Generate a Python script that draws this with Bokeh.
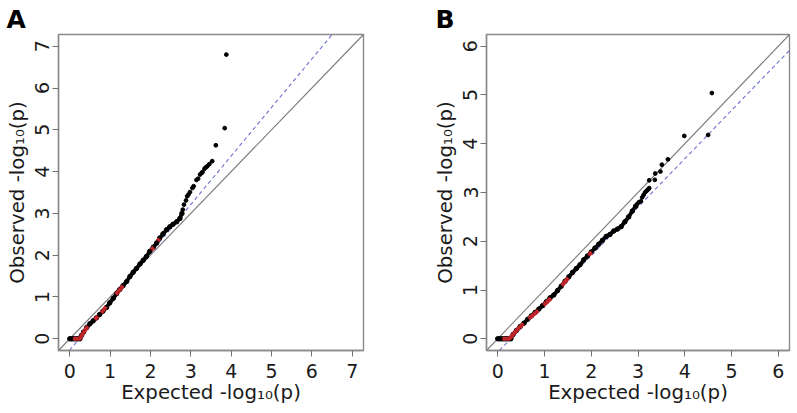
from bokeh.plotting import figure
from bokeh.models import Slope, FixedTicker
from bokeh.layouts import row
from bokeh.embed import file_html
from bokeh.resources import INLINE

# ---------------- Panel A data ----------------
A_ticks = [0, 1, 2, 3, 4, 5, 6, 7]
A_lim = 7
A_fit_slope = 1.161
A_fit_intercept = -0.27
A_body_x = [0.00, 0.04, 0.08, 0.12, 0.16, 0.20, 0.25, 0.29, 0.34, 0.42, 0.50, 0.58, 0.66,
            0.74, 0.82, 0.91, 0.99, 1.08, 1.16, 1.24, 1.32, 1.41, 1.49, 1.57, 1.65, 1.74,
            1.82, 1.90, 1.98, 2.07, 2.15, 2.23, 2.31, 2.40, 2.48, 2.56, 2.65, 2.73, 2.78]
A_body_y = [0.00, 0.00, 0.00, 0.00, 0.00, 0.00, 0.00, 0.08, 0.16, 0.27, 0.36, 0.43, 0.50,
            0.58, 0.66, 0.75, 0.86, 0.97, 1.08, 1.18, 1.27, 1.37, 1.49, 1.59, 1.68, 1.79,
            1.88, 1.97, 2.09, 2.19, 2.29, 2.41, 2.51, 2.61, 2.68, 2.74, 2.80, 2.88, 3.00]
A_tail_x = [2.80, 2.83, 2.88, 2.91, 2.94, 2.98, 3.04, 3.07, 3.14, 3.18, 3.23, 3.27, 3.29,
            3.34, 3.37, 3.41, 3.46, 3.53, 3.62, 3.84, 3.88]
A_tail_y = [3.09, 3.21, 3.31, 3.41, 3.45, 3.51, 3.61, 3.65, 3.80, 3.83, 3.93, 3.97, 3.99,
            4.07, 4.10, 4.13, 4.18, 4.25, 4.63, 5.04, 6.80]
A_red_xs = [[0.08, 0.16, 0.25, 0.30, 0.36, 0.45], [0.62, 0.70], [0.78, 0.90],
            [1.14, 1.32], [2.02, 2.08], [2.18, 2.22]]
A_red_ys = [[0.00, 0.00, 0.00, 0.09, 0.18, 0.30], [0.46, 0.54], [0.62, 0.77],
            [1.06, 1.27], [2.13, 2.19], [2.34, 2.40]]

# ---------------- Panel B data ----------------
B_ticks = [0, 1, 2, 3, 4, 5, 6]
B_lim = 6
B_fit_slope = 0.992
B_fit_intercept = -0.276
B_body_x = [0.00, 0.04, 0.08, 0.12, 0.16, 0.20, 0.24, 0.28, 0.33, 0.40, 0.48, 0.56, 0.64,
            0.72, 0.80, 0.88, 0.96, 1.04, 1.12, 1.20, 1.28, 1.36, 1.44, 1.52, 1.60, 1.68,
            1.76, 1.84, 1.92, 2.00, 2.08, 2.16, 2.24, 2.32, 2.40, 2.48, 2.56, 2.64, 2.72,
            2.80, 2.88, 2.95]
B_body_y = [0.00, 0.00, 0.00, 0.00, 0.00, 0.00, 0.00, 0.00, 0.09, 0.17, 0.25, 0.32, 0.40,
            0.47, 0.54, 0.61, 0.68, 0.76, 0.84, 0.90, 0.99, 1.08, 1.18, 1.27, 1.36, 1.44,
            1.52, 1.62, 1.70, 1.78, 1.86, 1.94, 2.02, 2.10, 2.14, 2.21, 2.25, 2.30, 2.40,
            2.50, 2.62, 2.72]
B_tail_x = [2.98, 3.02, 3.06, 3.09, 3.12, 3.15, 3.18, 3.20, 3.22, 3.24, 3.24, 3.36, 3.37,
            3.48, 3.51, 3.64, 3.99, 4.50, 4.58]
B_tail_y = [2.76, 2.80, 2.82, 2.90, 2.95, 3.00, 3.03, 3.05, 3.07, 3.09, 3.25, 3.26, 3.39,
            3.43, 3.57, 3.68, 4.16, 4.18, 5.04]
B_red_xs = [[0.10, 0.18, 0.25, 0.31, 0.40, 0.55], [0.66, 0.87], [0.98, 1.14],
            [1.37, 1.51], [1.94, 2.01]]
B_red_ys = [[0.00, 0.00, 0.00, 0.07, 0.17, 0.31], [0.41, 0.58], [0.69, 0.83],
            [1.09, 1.25], [1.71, 1.78]]

X_TITLE = "Expected -log\u2081\u2080(p)"
Y_TITLE = "Observed -log\u2081\u2080(p)"

FONT = "DejaVu Sans"
TXT = "#1a1a1a"
GRAY = "#8a8a8a"


def panel(letter, lim, ticks, bx, by, tx, ty, rxs, rys, fslope, fint,
          border_left, border_right, fw, letter_offset):
    lo, hi = -0.04 * lim, 1.04 * lim
    p = figure(x_range=(lo, hi), y_range=(lo, hi), frame_width=fw, frame_height=316,
               min_border_left=border_left, min_border_right=border_right,
               min_border_top=34, min_border_bottom=61,
               output_backend="svg", toolbar_location=None, title=letter)
    p.title.text_font = FONT
    p.title.text_font_size = "25px"
    p.title.text_font_style = "bold"
    p.title.text_color = "black"
    p.title.align = "left"
    p.title.offset = letter_offset
    p.title.standoff = 1
    p.xgrid.visible = False
    p.ygrid.visible = False
    p.outline_line_color = GRAY
    p.outline_line_width = 1.4
    p.background_fill_color = "white"
    p.border_fill_color = "white"
    for ax in (p.xaxis, p.yaxis):
        ax.ticker = FixedTicker(ticks=ticks)
        ax.minor_tick_line_color = None
        ax.major_tick_in = 0
        ax.major_tick_out = 6
        ax.major_tick_line_color = "#707070"
        ax.axis_line_color = GRAY
        ax.axis_line_width = 1.4
        ax.major_label_text_font = FONT
        ax.major_label_text_font_size = "19px"
        ax.major_label_text_color = TXT
        ax.axis_label_text_font = FONT
        ax.axis_label_text_font_size = "19.8px"
        ax.axis_label_text_font_style = "normal"
        ax.axis_label_text_color = TXT
    p.xaxis.major_label_standoff = 7
    p.yaxis.major_label_standoff = 3
    p.xaxis.axis_label_standoff = 0
    p.yaxis.axis_label_standoff = 4
    p.yaxis.major_label_orientation = "vertical"
    p.xaxis.axis_label = X_TITLE
    p.yaxis.axis_label = Y_TITLE

    p.add_layout(Slope(gradient=1, y_intercept=0, line_color="#7a7a7a",
                       line_width=1.1, level="underlay"))
    p.add_layout(Slope(gradient=fslope, y_intercept=fint, line_color="#7070d0",
                       line_width=1.1, line_dash="4 3", level="underlay"))

    p.line(bx, by, line_color="black", line_width=3.8)
    p.scatter(bx, by, size=4.5, color="black")
    p.multi_line(rxs, rys, line_color="#c0242b", line_width=4)
    p.scatter(tx, ty, size=3.8, color="black")
    return p


pA = panel("A", A_lim, A_ticks, A_body_x, A_body_y, A_tail_x, A_tail_y, A_red_xs, A_red_ys,
           A_fit_slope, A_fit_intercept, 58, 37, 305, -52)
pB = panel("B", B_lim, B_ticks, B_body_x, B_body_y, B_tail_x, B_tail_y, B_red_xs, B_red_ys,
           B_fit_slope, B_fit_intercept, 86, 6, 303, -51)

layout = row(pA, pB)
open("out.html", "w").write(file_html(layout, INLINE))
